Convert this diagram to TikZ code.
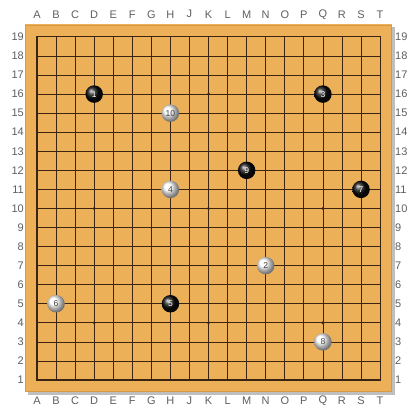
\documentclass[tikz,border=0pt]{standalone}
\usepackage{fontspec}
\setmainfont{Liberation Sans}
\usepackage{xcolor}
\usepackage{tikz}
\usetikzlibrary{shadings}

\definecolor{boardwood}{RGB}{236,177,88}
\definecolor{boardedge}{RGB}{216,152,68}
\definecolor{gridline}{RGB}{60,36,18}
\definecolor{coordgray}{RGB}{95,95,95}

\begin{document}
\begin{tikzpicture}[
    x=19.06pt, y=19.06pt,
    coordlabel/.style={font=\fontsize{11}{13}\selectfont, text=coordgray, inner sep=0pt},
    stone/.style={circle, minimum size=17.5pt, inner sep=0pt, font=\fontsize{8.5}{9}\selectfont},
    blackstone/.style={stone, shading=ball, ball color=black!95, text=white},
    whitestone/.style={stone, shading=ball, ball color=white, text=black!75},
    hoshi/.style={circle, fill=gridline, minimum size=3.2pt, inner sep=0pt}
]
\begin{scope}[shift={(0.941,0.5215)}]
\useasboundingbox (-0.941,-0.5215) rectangle (20.465,20.937);
\fill[white] (-0.941,-0.5215) rectangle (20.465,20.937);

% Board
\fill[black!25] (0.53,0.21) rectangle (19.79,19.51);
\fill[boardwood] (0.37,0.37) rectangle (19.63,19.67);
\draw[boardedge, line width=1pt] (0.42,0.42) rectangle (19.58,19.62);

% Grid
\foreach \i in {2,...,18} {
  \draw[gridline, line width=0.7pt] (\i,1) -- (\i,19);
  \draw[gridline, line width=0.7pt] (1,\i) -- (19,\i);
}
\draw[gridline, line width=1.1pt] (1,1) rectangle (19,19);

% Star points
\foreach \i in {4,10,16}
  \foreach \j in {4,10,16}
    \node[hoshi] (hoshi-\i-\j) at (\i,\j) {};

% Coordinates
\foreach \l [count=\i] in {A,B,C,D,E,F,G,H,J,K,L,M,N,O,P,Q,R,S,T} {
  \node[coordlabel] (top-\l) at (\i,20.19) {\l};
  \node[coordlabel] (bot-\l) at (\i,-0.1) {\l};
}
\foreach \r in {1,...,19} {
  \node[coordlabel, anchor=east] (left-\r) at (0.32,\r) {\r};
  \node[coordlabel, anchor=west] (right-\r) at (19.78,\r) {\r};
}

% Stones
\node[blackstone] (s1) at (4,16) {1};
\node[whitestone] (s2) at (13,7) {2};
\node[blackstone] (s3) at (16,16) {3};
\node[whitestone] (s4) at (8,11) {4};
\node[blackstone] (s5) at (8,5) {5};
\node[whitestone] (s6) at (2,5) {6};
\node[blackstone] (s7) at (18,11) {7};
\node[whitestone] (s8) at (16,3) {8};
\node[blackstone] (s9) at (12,12) {9};
\node[whitestone] (s10) at (8,15) {10};
\end{scope}
\end{tikzpicture}
\end{document}
